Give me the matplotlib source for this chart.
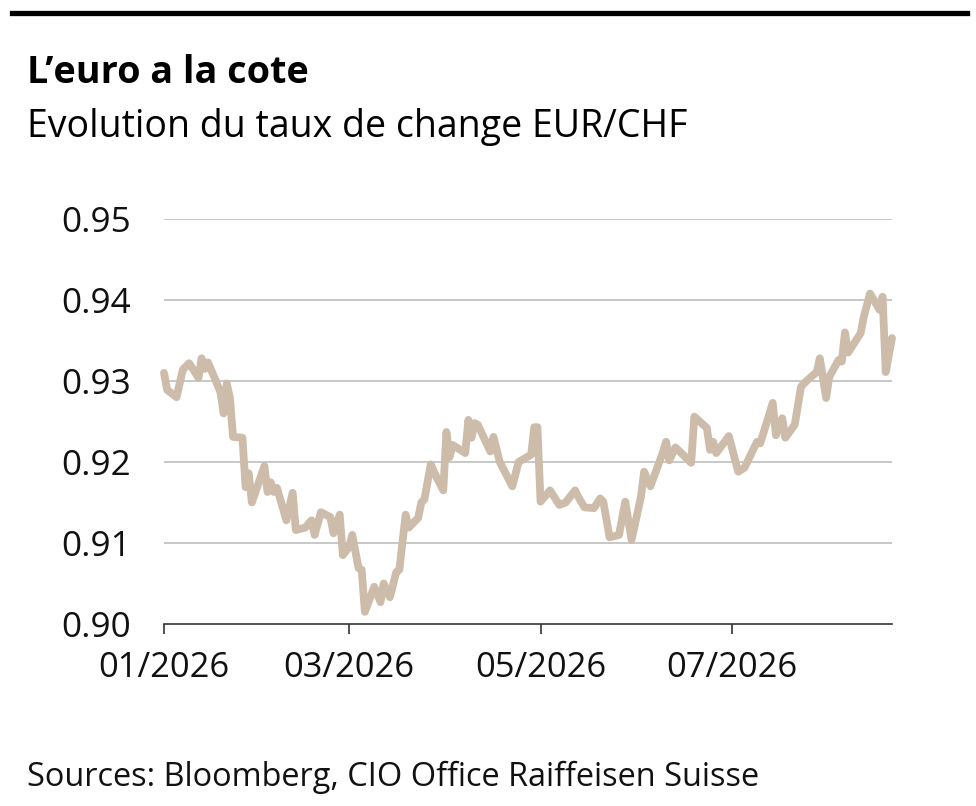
import matplotlib
matplotlib.use("Agg")
import matplotlib.pyplot as plt
import matplotlib.dates as mdates
from matplotlib.lines import Line2D
import pandas as pd

plt.rcParams['font.family'] = ['Open Sans', 'DejaVu Sans']

title = "L\u2019euro a la cote"
subtitle = "Evolution du taux de change EUR/CHF"
source = "Sources: Bloomberg, CIO Office Raiffeisen Suisse"

dates = [
    "2026-01-01", "2026-01-02", "2026-01-05", "2026-01-07", "2026-01-09", "2026-01-12",
    "2026-01-13", "2026-01-14", "2026-01-15", "2026-01-17", "2026-01-19", "2026-01-20",
    "2026-01-21", "2026-01-22", "2026-01-23", "2026-01-26", "2026-01-27", "2026-01-28",
    "2026-01-29", "2026-02-02", "2026-02-03", "2026-02-04", "2026-02-05", "2026-02-06",
    "2026-02-09", "2026-02-11", "2026-02-12", "2026-02-15", "2026-02-17", "2026-02-18",
    "2026-02-20", "2026-02-23", "2026-02-24", "2026-02-26", "2026-02-27", "2026-03-01",
    "2026-03-02", "2026-03-04", "2026-03-05", "2026-03-06", "2026-03-09", "2026-03-11",
    "2026-03-12", "2026-03-14", "2026-03-16", "2026-03-17", "2026-03-19", "2026-03-20",
    "2026-03-23", "2026-03-24", "2026-03-25", "2026-03-27", "2026-03-29", "2026-03-31",
    "2026-04-01", "2026-04-02", "2026-04-03", "2026-04-07", "2026-04-08", "2026-04-09",
    "2026-04-10", "2026-04-11", "2026-04-15", "2026-04-16", "2026-04-18", "2026-04-22",
    "2026-04-24", "2026-04-28", "2026-04-29", "2026-04-30", "2026-05-01", "2026-05-04",
    "2026-05-07", "2026-05-09", "2026-05-12", "2026-05-13", "2026-05-15", "2026-05-18",
    "2026-05-20", "2026-05-21", "2026-05-23", "2026-05-26", "2026-05-28", "2026-05-30",
    "2026-06-02", "2026-06-03", "2026-06-05", "2026-06-09", "2026-06-10", "2026-06-11",
    "2026-06-13", "2026-06-18", "2026-06-19", "2026-06-23", "2026-06-24", "2026-06-25",
    "2026-06-26", "2026-06-30", "2026-07-03", "2026-07-05", "2026-07-09", "2026-07-10",
    "2026-07-14", "2026-07-15", "2026-07-17", "2026-07-18", "2026-07-21", "2026-07-23",
    "2026-07-25", "2026-07-28", "2026-07-29", "2026-07-31", "2026-08-01", "2026-08-04",
    "2026-08-05", "2026-08-06", "2026-08-07", "2026-08-11", "2026-08-12", "2026-08-14",
    "2026-08-17", "2026-08-18", "2026-08-19", "2026-08-21",
]
eurchf = [
    0.9310, 0.9289, 0.9280, 0.9314, 0.9322, 0.9304,
    0.9328, 0.9315, 0.9323, 0.9305, 0.9286, 0.9260,
    0.9297, 0.9279, 0.9231, 0.9230, 0.9169, 0.9186,
    0.9150, 0.9195, 0.9163, 0.9175, 0.9163, 0.9168,
    0.9128, 0.9162, 0.9116, 0.9119, 0.9128, 0.9110,
    0.9138, 0.9132, 0.9112, 0.9135, 0.9085, 0.9095,
    0.9110, 0.9069, 0.9067, 0.9015, 0.9046, 0.9027,
    0.9050, 0.9033, 0.9064, 0.9067, 0.9135, 0.9119,
    0.9131, 0.9150, 0.9154, 0.9197, 0.9180, 0.9165,
    0.9237, 0.9206, 0.9221, 0.9211, 0.9252, 0.9230,
    0.9248, 0.9246, 0.9213, 0.9231, 0.9200, 0.9170,
    0.9200, 0.9209, 0.9243, 0.9243, 0.9151, 0.9165,
    0.9147, 0.9150, 0.9165, 0.9157, 0.9144, 0.9143,
    0.9155, 0.9151, 0.9107, 0.9110, 0.9151, 0.9104,
    0.9157, 0.9188, 0.9170, 0.9212, 0.9225, 0.9202,
    0.9218, 0.9199, 0.9256, 0.9242, 0.9215, 0.9225,
    0.9211, 0.9232, 0.9188, 0.9193, 0.9225, 0.9223,
    0.9273, 0.9233, 0.9254, 0.9230, 0.9246, 0.9293,
    0.9301, 0.9311, 0.9328, 0.9279, 0.9305, 0.9326,
    0.9324, 0.9360, 0.9335, 0.9359, 0.9379, 0.9408,
    0.9388, 0.9404, 0.9311, 0.9353,
]
y_ticks = [0.90, 0.91, 0.92, 0.93, 0.94, 0.95]
x_ticks = ["2026-01-01", "2026-03-01", "2026-05-01", "2026-07-01"]

x = pd.to_datetime(dates)

fig = plt.figure(figsize=(9.76, 8.06), dpi=100)
ax = fig.add_axes([164/976, 1-624/806, (892-164)/976, (624-219)/806])

for t in y_ticks[1:]:
    ax.axhline(t, color="#c8c8c8", lw=1.4, zorder=1)

ax.plot(x, eurchf, color="#cdbca9", lw=5.6, solid_joinstyle="round",
        solid_capstyle="round", zorder=3, clip_on=False)

ax.set_ylim(0.90, 0.95)
ax.set_xlim(pd.Timestamp("2026-01-01"), pd.Timestamp("2026-08-21"))
ax.set_yticks(y_ticks)
ax.set_yticklabels([f"{t:.2f}" for t in y_ticks])
ax.set_xticks(pd.to_datetime(x_ticks))
ax.xaxis.set_major_formatter(mdates.DateFormatter("%m/%Y"))

for s in ["top", "right", "left"]:
    ax.spines[s].set_visible(False)
ax.spines["bottom"].set_color("#333333")
ax.spines["bottom"].set_linewidth(1.2)

ax.tick_params(axis="y", length=0, pad=23.5, labelsize=25.3, labelcolor="#111111")
ax.tick_params(axis="x", length=7.5, width=1.2, color="#333333", pad=12,
               labelsize=24.8, labelcolor="#111111")

fig.add_artist(Line2D([12/976, 967/976], [1-13/806, 1-13/806], color="black", lw=3.8))
fig.text(27/976, 1-83/806, title, fontsize=27.2, fontweight="bold", color="black")
fig.text(27/976, 1-137/806, subtitle, fontsize=27, color="black")
fig.text(27/976, 1-786/806, source, fontsize=23.4, color="#111111")

fig.savefig("out.png", dpi=100)
